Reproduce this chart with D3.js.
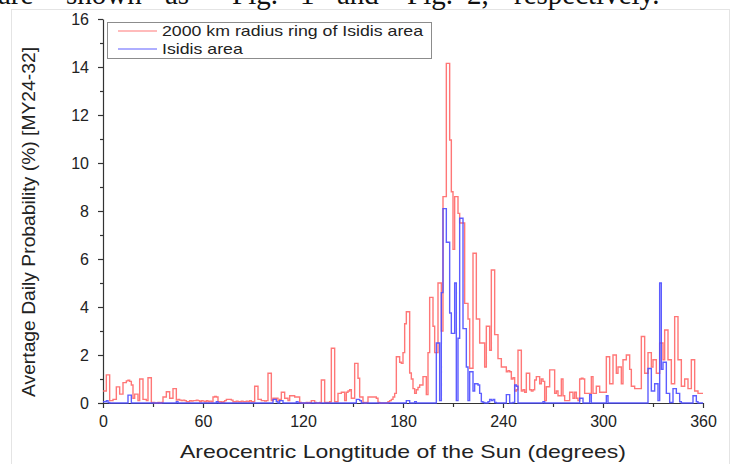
<!DOCTYPE html>
<html>
<head>
<meta charset="utf-8">
<script src="https://cdn.jsdelivr.net/npm/d3@7"></script>
<style>
	body { margin: 0; background: #fff; }
	svg { display: block; font-family: 'Liberation Sans', Arial, sans-serif; }
</style>
</head>
<body>
<svg class="prob-chart" width="731" height="464"></svg>
<script>
// average daily probability (%) per 1 degree Ls bin
let ringArea = [
	0.5, 0.5, 1.17, 1.17, 0.1, 0.1, 0.15, 0.15, 0.67, 0.67, 0.37, 0.37, 0.85, 0.85, 0.92, 0.95, 0.9, 0.75, 0.2, 0.37,
	0.37, 0.1, 1.0, 1.0, 0.15, 0.15, 0.1, 1.05, 1.05, 0.02, 0.02, 0, 0, 0.02, 0, 0.02, 0.25, 0.25, 0.47, 0.47,
	0.2, 0.2, 0.6, 0.6, 0.12, 0.15, 0.12, 0.1, 0.12, 0.1, 0.05, 0.05, 0.1, 0.08, 0.1, 0.1, 0.12, 0.1, 0.05, 0.1,
	0.08, 0.05, 0.1, 0.05, 0.08, 0.05, 0.25, 0.27, 0.25, 0.05, 0.05, 0.02, 0.05, 0.1, 0.15, 0.15, 0.15, 0.12, 0.05, 0.05,
	0.08, 0.05, 0.05, 0.08, 0.05, 0.05, 0.08, 0.05, 0.1, 0.05, 0.05, 0.7, 0.7, 0.15, 0.15, 0.1, 0.1, 0.08, 0.1, 1.24,
	1.24, 0.1, 0.2, 0.2, 0.2, 0.1, 0.15, 0.45, 0.45, 0.2, 0.2, 0.1, 0.3, 0.3, 0.3, 0.25, 0.25, 0.25, 0.02, 0,
	0, 0, 0.02, 0, 0.02, 0.1, 0.1, 0.02, 0, 0, 0.02, 0.96, 0.96, 0.02, 0.02, 0.02, 0.05, 2.28, 2.28, 0.05,
	0.05, 0.4, 0.4, 0.45, 0.45, 0.1, 0.45, 0.5, 0.55, 0.2, 0.2, 1.65, 1.65, 1.03, 0.25, 0.25, 0.02, 0, 0.02, 0.25,
	0.25, 0.25, 0.25, 0.25, 0.2, 0.02, 0, 0, 0, 0, 0, 0.05, 0.1, 0.15, 0.25, 0.4, 1.93, 1.93, 1.7, 1.65,
	2.1, 3.3, 3.8, 3.8, 1.25, 1.0, 0.6, 0.4, 0.55, 0.65, 0.75, 0.75, 1.1, 1.1, 0.35, 2.1, 4.4, 4.4, 3.2, 2.1,
	2.1, 5.0, 5.0, 3.0, 8.6, 8.6, 14.15, 14.15, 10.96, 8.8, 6.4, 8.6, 8.6, 7.9, 7.5, 7.5, 7.5, 4.15, 4.15, 3.5,
	1.45, 1.45, 6.24, 6.24, 3.5, 3.5, 2.5, 2.5, 2.5, 1.5, 3.2, 3.2, 2.2, 5.54, 5.54, 2.85, 2.85, 1.85, 1.85, 1.5,
	1.5, 1.5, 1.3, 1.35, 1.3, 1.0, 1.05, 0.5, 0.55, 2.2, 2.2, 0.5, 0.55, 0.45, 1.24, 1.24, 0.55, 0.5, 0.55, 0.96,
	1.1, 1.1, 0.8, 1.0, 0.9, 0.1, 0.68, 0.68, 1.38, 1.38, 1.38, 0.4, 0.5, 0.3, 0.3, 1.0, 0.3, 0.1, 0.1, 0.1,
	0.45, 0.45, 0.2, 0.45, 0.2, 0.1, 1.0, 1.03, 1.0, 0.4, 0.4, 0.4, 0.4, 1.1, 0.4, 0.4, 0.7, 0.7, 0.45, 0.45,
	0.45, 0.45, 1.93, 1.93, 0.8, 0.8, 2.0, 2.0, 1.24, 1.5, 1.5, 0.8, 1.8, 1.8, 2.0, 2.0, 1.4, 0.7, 0.7, 0.6,
	0.6, 0.6, 0.6, 2.77, 2.77, 1.24, 1.24, 2.1, 2.1, 1.5, 1.8, 1.8, 1.24, 1.24, 2.5, 2.5, 1.8, 3.04, 3.04, 1.8,
	1.8, 0.8, 0.8, 3.6, 3.6, 1.8, 1.8, 0.7, 0.7, 1.0, 1.0, 0.6, 0.6, 1.8, 1.8, 0.5, 0.5, 0.4, 0.4, 0.4
];

let isidisArea = [
	0.05, 0.05, 0.1, 0.02, 0, 0, 0, 0, 0, 0, 0, 0, 0, 0, 0, 0.33, 0.33, 0, 0, 0,
	0, 0, 0, 0, 0, 0, 0, 0, 0, 0, 0, 0, 0, 0, 0, 0, 0, 0, 0, 0,
	0, 0, 0, 0, 0.05, 0, 0, 0, 0, 0, 0, 0, 0, 0, 0, 0, 0, 0, 0, 0,
	0, 0, 0, 0, 0, 0, 0, 0, 0.05, 0, 0, 0, 0, 0, 0, 0, 0, 0, 0, 0,
	0, 0, 0, 0, 0, 0, 0, 0, 0, 0, 0, 0, 0, 0, 0, 0, 0, 0, 0, 0,
	0, 0, 0.15, 0.15, 0.05, 0, 0.1, 0.1, 0, 0, 0, 0, 0, 0, 0, 0, 0.05, 0, 0, 0,
	0, 0, 0, 0, 0, 0, 0, 0, 0, 0, 0, 0, 0, 0, 0, 0, 0, 0, 0, 0,
	0, 0, 0, 0, 0, 0, 0, 0, 0, 0, 0, 0, 0.15, 0.15, 0.1, 0, 0, 0, 0, 0,
	0, 0, 0, 0, 0, 0, 0, 0, 0, 0, 0, 0, 0, 0, 0, 0, 0, 0, 0, 0,
	0, 0, 0.1, 0.1, 0, 0, 0, 0.05, 0, 0, 0, 0, 0, 0, 0, 0, 0, 0, 0, 0,
	2.5, 2.5, 0.1, 4.6, 8.1, 8.1, 6.7, 6.7, 3.75, 2.9, 2.9, 5.0, 0.1, 2.7, 7.7, 7.7, 3.1, 3.1, 1.5, 0.1,
	1.3, 1.3, 0.5, 0.8, 0.8, 0.75, 0.4, 0.05, 0.02, 0, 0, 0.05, 0.15, 0.1, 0.15, 0.02, 0, 0, 0, 0,
	0, 0, 0.35, 0.35, 0, 0, 0.02, 0.75, 0.7, 0, 0, 0, 0, 0, 0, 0, 0, 0, 0, 0,
	0, 0, 0, 0, 0.05, 0, 0, 0, 0, 0, 0, 0, 0, 0, 0, 0, 0, 0, 0, 0,
	0, 0, 0, 0, 0, 0, 0.2, 0.2, 0, 0, 0, 0, 0.35, 0, 0, 0, 0, 0, 0, 0,
	0, 0, 0.3, 0, 0, 0, 0, 0, 0, 0, 0, 0, 0, 0, 0, 0, 0, 0, 0, 0,
	0, 0, 0, 0, 0, 0, 0, 1.44, 1.44, 0.5, 0.5, 0.8, 0.8, 0.1, 5.0, 1.4, 1.7, 1.7, 0.4, 0.4,
	0.02, 0.02, 0.6, 0.6, 0.4, 0.4, 0.05, 0, 0, 0, 0, 0, 0, 0, 0.3, 0.3, 0.05, 0, 0, 0
];

let seriesNames = ['2000 km radius ring of Isidis area', 'Isidis area'];
let seriesColors = ['#ff6868', '#4b4bff'];
let xTickValues = [0, 30, 60, 90, 120, 150, 180, 210, 240, 270, 300, 330, 360];
let yTickValues = [0, 1, 2, 3, 4, 5, 6, 7, 8, 9, 10, 11, 12, 13, 14, 15, 16];
let xTitle = 'Areocentric Longtitude of the Sun (degrees)';
let yTitle = 'Avertage Daily Probability (%) [MY24-32]';
let captionWords = ['are', 'shown', 'as', 'Fig.', '1', 'and', 'Fig.', '2,', 'respectively.'];

let margin = { top: 19, right: 28, bottom: 61, left: 103 };
let constant = {
	width: 600,
	height: 384,
	x: d3.scaleLinear().domain([0, 360]).range([0, 600]),
	y: d3.scaleLinear().domain([0, 16]).range([384, 0])
};

let svg = d3.select('.prob-chart');

// faint border of the pasted figure
svg.append('rect')
	.attr('x', 11.5).attr('y', 9.5)
	.attr('width', 718).attr('height', 470)
	.attr('fill', 'none')
	.attr('stroke', '#e4e4e4');

// cut-off line of body text above the figure (justified, so words are placed one by one)
let captionX = [-2, 66, 165, 232, 300, 337, 407, 467, 514];
svg.append('text')
	.attr('y', 4)
	.style('font-family', "'Liberation Serif', 'Times New Roman', serif")
	.style('font-size', '29px')
	.attr('fill', '#111')
	.selectAll('tspan')
	.data(captionWords)
	.enter()
	.append('tspan')
	.attr('x', function(d, i) { return captionX[i]; })
	.text(function(d) { return d; });

let g = svg.append('g').attr('transform', 'translate(' + margin.left + ',' + margin.top + ')');

/* AXES */
function drawAxes() {
	let xAxis = g.append('g')
		.attr('class', 'x-axis')
		.attr('transform', 'translate(0,' + constant.height + ')')
		.call(d3.axisBottom(constant.x)
			.tickValues(xTickValues)
			.tickSizeOuter(0)
			.tickSizeInner(5)
			.tickPadding(8)
			.tickFormat(function(d) { return d % 60 === 0 ? d : ''; }));

	let yAxis = g.append('g')
		.attr('class', 'y-axis')
		.call(d3.axisLeft(constant.y)
			.tickValues(yTickValues)
			.tickSizeOuter(0)
			.tickSizeInner(5)
			.tickPadding(9)
			.tickFormat(function(d) { return d % 2 === 0 ? d : ''; }));

	// minor ticks are shorter
	xAxis.selectAll('.tick line').attr('y2', function(d) { return d % 60 === 0 ? 5 : 4; });
	yAxis.selectAll('.tick line').attr('x2', function(d) { return d % 2 === 0 ? -5 : -3; });

	g.selectAll('.x-axis path, .y-axis path, .tick line')
		.attr('stroke', '#333')
		.attr('stroke-width', 1.2);

	g.selectAll('.tick text')
		.style('font-size', '16px')
		.style('font-family', "'Liberation Sans', Arial, sans-serif")
		.attr('fill', '#222');

	svg.append('text')
		.attr('x', margin.left + constant.width / 2)
		.attr('y', 458)
		.attr('text-anchor', 'middle')
		.style('font-size', '19px')
		.attr('textLength', 446)
		.attr('lengthAdjust', 'spacingAndGlyphs')
		.attr('fill', '#222')
		.text(xTitle);

	svg.append('text')
		.attr('transform', 'translate(35,222) rotate(-90)')
		.attr('text-anchor', 'middle')
		.style('font-size', '19px')
		.attr('textLength', 350)
		.attr('lengthAdjust', 'spacingAndGlyphs')
		.attr('fill', '#222')
		.text(yTitle);
}

/* STEP LINES */
function drawSeries(values, color) {
	let points = values.map(function(v, i) { return [i, v]; });
	points.push([values.length, values[values.length - 1]]);

	let line = d3.line()
		.curve(d3.curveStepAfter)
		.x(function(d) { return constant.x(d[0]); })
		.y(function(d) { return constant.y(d[1]); });

	g.append('path')
		.datum(points)
		.attr('d', line)
		.attr('fill', 'none')
		.attr('stroke', color)
		.attr('stroke-width', 1.4)
		.attr('stroke-opacity', 0.9);
}

/* LEGEND */
function drawLegend() {
	let legend = svg.append('g').attr('class', 'legend');

	legend.append('rect')
		.attr('x', 107.5).attr('y', 22.5)
		.attr('width', 324).attr('height', 36)
		.attr('fill', '#fff')
		.attr('stroke', '#8c8c8c');

	let rows = legend.selectAll('.legend-row')
		.data(seriesNames)
		.enter()
		.append('g')
		.attr('class', 'legend-row')
		.attr('transform', function(d, i) { return 'translate(0,' + (31 + i * 18) + ')'; });

	rows.append('line')
		.attr('x1', 118).attr('x2', 157)
		.attr('stroke', function(d, i) { return seriesColors[i]; })
		.attr('stroke-opacity', 0.6)
		.attr('stroke-width', 1.4);

	let labels = rows.append('text')
		.attr('x', 162)
		.attr('y', 5)
		.style('font-size', '15px')
		.attr('fill', '#222')
		.text(function(d) { return d; });

	// the figure is a little stretched sideways: widen legend text to match
	let stretch = 261 / labels.node().getComputedTextLength();
	labels.attr('textLength', function() { return this.getComputedTextLength() * stretch; })
		.attr('lengthAdjust', 'spacingAndGlyphs');
}

drawAxes();
drawSeries(ringArea, seriesColors[0]);
drawSeries(isidisArea, seriesColors[1]);
drawLegend();
</script>
</body>
</html>
